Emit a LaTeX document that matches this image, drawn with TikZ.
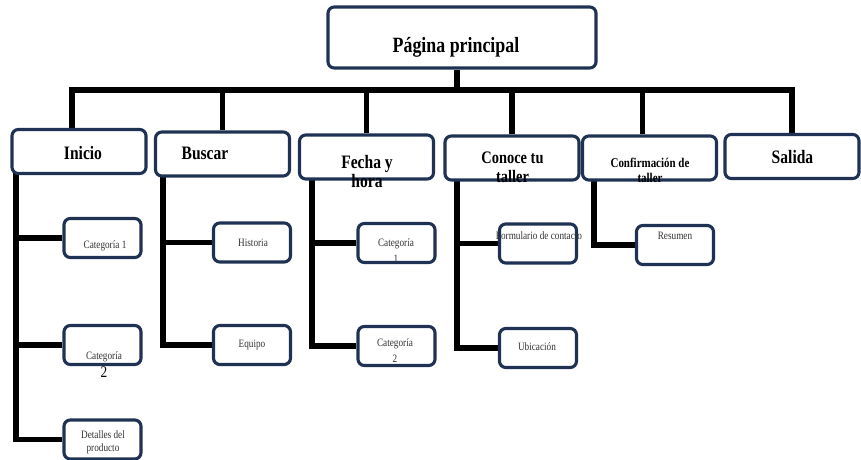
\documentclass[tikz,border=0pt]{standalone}
\usepackage{fontspec}
\setmainfont{Liberation Serif}[FakeStretch=0.82]
\usetikzlibrary{backgrounds}
\definecolor{boxblue}{HTML}{1F3254}
\definecolor{subgray}{HTML}{333333}

\begin{document}
\begin{tikzpicture}[x=0.025cm,y=-0.025cm,
    box/.style={draw=boxblue, line width=2.2pt, rounded corners=4.5pt, fill=white},
    topbox/.style={box, minimum width=6.7cm, minimum height=1.525cm},
    menubox/.style={box, minimum width=3.35cm, minimum height=1.1cm},
    subbox/.style={box, minimum width=1.925cm, minimum height=0.975cm},
    link/.style={line width=4pt, black},
    toptxt/.style={anchor=base, font=\bfseries\fontsize{15.5}{16}\selectfont},
    menutxt/.style={anchor=base, align=center, font=\bfseries\fontsize{13.5}{12}\selectfont},
    subtxt/.style={anchor=base, align=center, text=subgray, font=\fontsize{8}{9.2}\selectfont}]
    \useasboundingbox (0,0) rectangle (861,460);
    % Top box
    \node[topbox] (main) at (462,37.5) {};
    \node[toptxt] (main-t) at (456,52) {Página principal};
    %
    % Menu boxes
    \node[menubox] (inicio) at (79,151.5) {};
    \node[menubox] (buscar) at (222.5,154) {};
    \node[menubox] (fecha) at (366.5,157) {};
    \node[menubox] (conoce) at (512,158) {};
    \node[menubox] (confirm) at (649.5,158) {};
    \node[menubox] (salida) at (792,156.5) {};
    \node[menutxt] (inicio-t) at (83,159) {Inicio};
    \node[menutxt] (buscar-t) at (205,159) {Buscar};
    \node[menutxt] (fecha-t) at (367,187) {Fecha y\\hora};
    \node[menutxt, font=\bfseries\fontsize{12.5}{13.5}\selectfont] (conoce-t) at (512.5,182) {Conoce tu\\taller};
    \node[menutxt, font=\bfseries\fontsize{9.5}{10.6}\selectfont] (confirm-t) at (650,182) {Confirmación de\\taller};
    \node[menutxt] (salida-t) at (792.5,163) {Salida};
    %
    % Sub boxes
    \node[subbox] (cat1a) at (102.5,238) {};
    \node[subbox] (cat2a) at (102.5,345) {};
    \node[subbox] (detalles) at (102.5,439.5) {};
    \node[subbox] (historia) at (252,242.5) {};
    \node[subbox] (equipo) at (252,345) {};
    \node[subbox] (cat1b) at (396.5,243) {};
    \node[subbox] (cat2b) at (396.5,346) {};
    \node[subbox] (formulario) at (538,243.5) {};
    \node[subbox] (ubicacion) at (538,348) {};
    \node[subbox] (resumen) at (675,245) {};
    \node[subtxt] (cat1a-t) at (105,248) {Categoría 1};
    \node[subtxt] (cat2a-t) at (104,377) {Categoría\\[2pt]{\color{black}\fontsize{11.5}{11}\selectfont 2}};
    \node[subtxt] (detalles-t) at (103,451) {Detalles del\\producto};
    \node[subtxt] (historia-t) at (253,246) {Historia};
    \node[subtxt] (equipo-t) at (252,347) {Equipo};
    \node[subtxt, font=\fontsize{8}{11}\selectfont] (cat1b-t) at (396,262) {Categoría\\1};
    \node[subtxt, font=\fontsize{8}{11}\selectfont] (cat2b-t) at (395,362) {Categoría\\2};
    \node[subtxt] (formulario-t) at (539,239) {Formulario de contacto};
    \node[subtxt] (ubicacion-t) at (537,350) {Ubicación};
    \node[subtxt] (resumen-t) at (675,239) {Resumen};
    %
    % Connectors
    \begin{scope}[on background layer]
    \coordinate (bar) at (0,90);
    \draw[link] ([xshift=-3.5pt]main.south) -- ([xshift=-3.5pt]main.south |- bar);
    \draw[link] ([xshift=-5pt]inicio.north) |- (salida.north |- bar) -- (salida.north);
    \foreach \m in {buscar,fecha,conoce} \draw[link] (\m.north) -- (\m.north |- bar);
    \draw[link] ([xshift=-5pt]confirm.north) -- ([xshift=-5pt]confirm.north |- bar);
    %
    \coordinate (tI) at (16,173);
    \draw[link] (tI) |- (detalles.west);
    \draw[link] (cat1a.west) -- (cat1a.west -| tI);
    \draw[link] (cat2a.west) -- (cat2a.west -| tI);
    %
    \coordinate (tB) at (163,176);
    \draw[link] (tB) |- (equipo.west);
    \draw[link] (historia.west) -- (historia.west -| tB);
    %
    \coordinate (tF) at (312,179);
    \draw[link] (tF) |- (cat2b.west);
    \draw[link] (cat1b.west) -- (cat1b.west -| tF);
    %
    \coordinate (tC) at (457,180);
    \draw[link] (tC) |- (ubicacion.west);
    \draw[link] (formulario.west) -- (formulario.west -| tC);
    %
    \coordinate (tR) at (594,180);
    \draw[link] (tR) |- (resumen.west);
    \end{scope}
\end{tikzpicture}
\end{document}
